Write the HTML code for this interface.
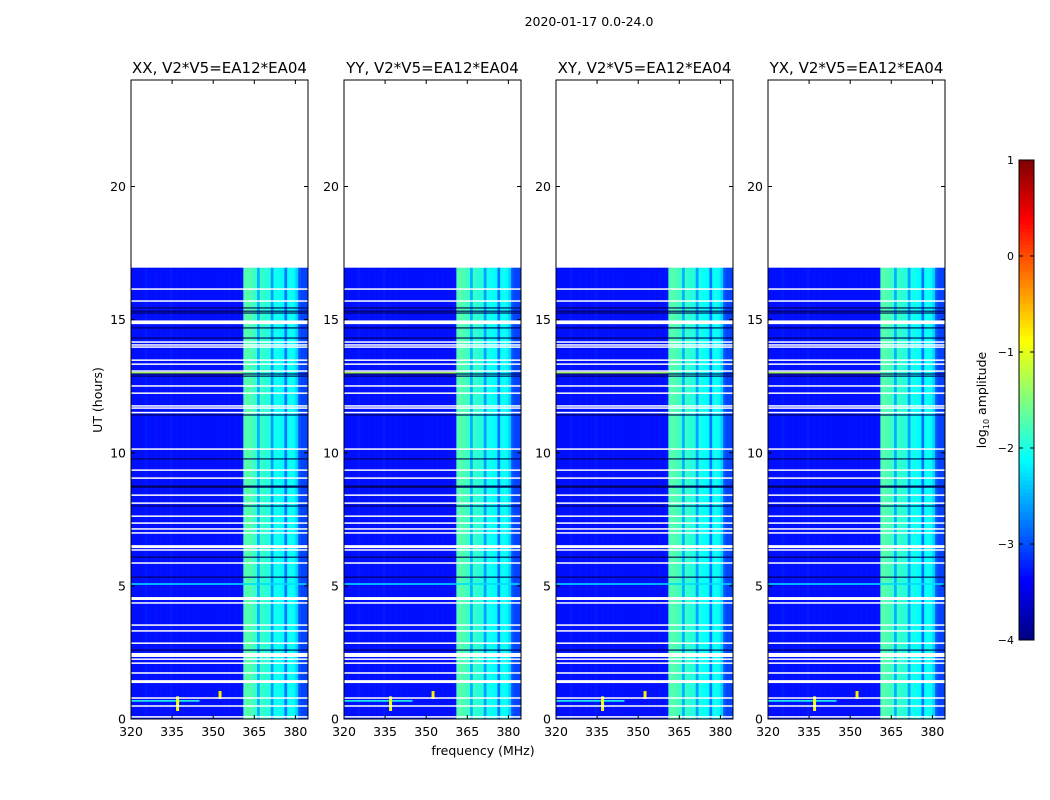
<!DOCTYPE html>
<html><head><meta charset="utf-8">
<style>
body{margin:0;background:#fff;}
svg{display:block;font-family:"DejaVu Sans","Liberation Sans",sans-serif;}
</style></head>
<body>
<svg id="chart" width="1050" height="800" viewBox="0 0 1050 800">
<text x="589" y="26" font-size="12.5" text-anchor="middle">2020-01-17 0.0-24.0</text>
<text x="483" y="755" font-size="12.5" text-anchor="middle">frequency (MHz)</text>
<text transform="translate(102,400) rotate(-90)" font-size="12.5" text-anchor="middle">UT (hours)</text>
<g id="panels"></g>
<g id="cbar"></g>
</svg>
<script>
const panelTitles=["XX, V2*V5=EA12*EA04","YY, V2*V5=EA12*EA04","XY, V2*V5=EA12*EA04","YX, V2*V5=EA12*EA04"];
const xTicks=[320,335,350,365,380];
const yTicks=[0,5,10,15,20];
const cbTicks=[-4,-3,-2,-1,0,1];
// log10 amplitude profile per 1 MHz channel, starting 320 MHz
const freqStart=320;
const freqProfile=[-3.3,-3.3,-3.3,-3.3,-3.3,-3.25,-3.3,-3.3,-3.3,-3.3,-3.3,-3.3,-3.3,-3.3,-3.25,-3.3,-3.3,-3.3,-3.3,-3.3,
-3.3,-3.3,-3.3,-3.3,-3.3,-3.3,-3.3,-3.3,-3.3,-3.3,-3.3,-3.3,-3.3,-3.3,-3.3,-3.3,-3.3,-3.3,-3.3,-3.3,
-3.3,-1.75,-1.7,-1.75,-1.8,-1.85,-2.5,-1.85,-1.9,-1.95,-1.95,-2.6,-2.05,-2.05,-2.1,-2.15,-2.8,-2.1,-2.05,-2.15,-2.35,-2.95,-3.05,-3.05,-3.05];
const dataEnd=16.95;
const whiteLines=[16.15,15.70,14.16,14.05,13.97,13.48,13.33,13.07,12.51,12.24,11.76,11.68,11.51,10.14,9.35,9.05,8.41,8.11,7.62,7.36,7.14,6.99,6.35,5.86,4.36,3.53,3.31,2.85,2.25,2.10,1.73,0.79,0.49,0.08];
const whiteBands=[[14.83,14.97],[6.42,6.53],[4.47,4.58],[2.33,2.48],[1.35,1.46]];
const darkLines=[15.44,15.32,15.25,14.69,14.31,12.96,12.88,11.42,9.77,8.75,8.71,8.0,6.08,5.33,2.59];
const rfiLines=[[13.0,320,361,-1.3],[0.68,320,345,-2.0],[5.07,320,384,-2.3]];
const rfiSpots=[[337,0.3,0.85,-0.9],[352.5,0.75,1.05,-0.8]];

const NS="http://www.w3.org/2000/svg";
const svg=document.getElementById('chart');
const panelsG=document.getElementById('panels');
const panelX=[131,344,556,768], PW=177, PT=80, PB=719;
const fMin=320, fMax=384.6;
function jet(v){let t=(v+4)/5;t=Math.max(0,Math.min(1,t));
 const r=Math.max(0,Math.min(1,Math.min(4*t-1.5,-4*t+4.5)));
 const g=Math.max(0,Math.min(1,Math.min(4*t-0.5,-4*t+3.5)));
 const b=Math.max(0,Math.min(1,Math.min(4*t+0.5,-4*t+2.5)));
 return `rgb(${Math.round(r*255)},${Math.round(g*255)},${Math.round(b*255)})`;}
function mk(tag,attrs,parent){const e=document.createElementNS(NS,tag);for(const k in attrs)e.setAttribute(k,attrs[k]);parent.appendChild(e);return e;}
function yScale(h){return PB-(h/24)*(PB-PT);}
panelX.forEach((x0,pi)=>{
 const xs=f=>x0+(f-fMin)/(fMax-fMin)*PW;
 const g=mk('g',{},panelsG);
 
 
 const hm=mk('g',{},g);
 
 
 freqProfile.forEach((v,i)=>{
  const f0=freqStart+i,f1=Math.min(f0+1,fMax);
  if(f0>=fMax)return;
  const r=mk('rect',{x:xs(f0),y:yScale(dataEnd),width:xs(f1)-xs(f0)+0.3,height:yScale(0)-yScale(dataEnd),fill:jet(v)},hm);
  
  
 });
 rfiLines.forEach(l=>{
  const r=mk('rect',{x:xs(l[1]),y:yScale(l[0])-0.8,width:xs(l[2])-xs(l[1]),height:1.6,fill:jet(l[3])},hm);
  
  
 });
 rfiSpots.forEach(s=>{
  const r=mk('rect',{x:xs(s[0])-1.5,y:yScale(s[2]),width:3,height:yScale(s[1])-yScale(s[2]),fill:jet(s[3])},hm);
  
  
 });
 darkLines.forEach(h=>{
  const r=mk('rect',{x:x0,y:yScale(h)-0.5,width:PW,height:1.1,fill:'#000050'},hm);
  
  
 });
 whiteLines.forEach(h=>{
  const r=mk('rect',{x:x0,y:yScale(h)-0.7,width:PW,height:1.5,fill:'#fff'},hm);
  
  
 });
 whiteBands.forEach(b=>{
  const r=mk('rect',{x:x0,y:yScale(b[1]),width:PW,height:yScale(b[0])-yScale(b[1]),fill:'#fff'},hm);
  
  
 });
 const fr=mk('rect',{x:x0,y:PT,width:PW,height:PB-PT,fill:'none',stroke:'#000','stroke-width':1},g);
 
 
 const t=mk('text',{x:x0+PW/2,y:73,'font-size':15,'text-anchor':'middle'},g);
 t.textContent=panelTitles[pi];
 
 
 xTicks.forEach(v=>{
  const x=xs(v);
  mk('line',{x1:x,x2:x,y1:PB,y2:PB-4,stroke:'#000'},g);
  mk('line',{x1:x,x2:x,y1:PT,y2:PT+4,stroke:'#000'},g);
  const l=mk('text',{x:x,y:736,'font-size':12.5,'text-anchor':'middle'},g);
  l.textContent=v;
  
  
 });
 yTicks.forEach(v=>{
  const y=yScale(v);
  mk('line',{x1:x0,x2:x0+4,y1:y,y2:y,stroke:'#000'},g);
  mk('line',{x1:x0+PW,x2:x0+PW-4,y1:y,y2:y,stroke:'#000'},g);
  const l=mk('text',{x:x0-5,y:y+4.5,'font-size':12.5,'text-anchor':'end'},g);
  l.textContent=v;
  
  
 });
});
// colorbar
const cb=document.getElementById('cbar');
const CX=1019,CW=15,CT=160,CB=640;
const cbS=v=>CB-(v+4)/5*(CB-CT);
for(let i=0;i<120;i++){
 const v0=-4+i*5/120;
 mk('rect',{x:CX,y:cbS(v0+5/120),width:CW,height:(CB-CT)/120+0.5,fill:jet(v0+2.5/120)},cb);
}
mk('rect',{x:CX,y:CT,width:CW,height:CB-CT,fill:'none',stroke:'#000'},cb);
cbTicks.forEach(v=>{
 const y=cbS(v);
 mk('line',{x1:CX,x2:CX+4,y1:y,y2:y,stroke:'#000'},cb);
 mk('line',{x1:CX+CW,x2:CX+CW-4,y1:y,y2:y,stroke:'#000'},cb);
 const l=mk('text',{x:CX-5,y:y+4,'font-size':11,'text-anchor':'end'},cb);
 l.textContent=(v<0?'\u2212':'')+Math.abs(v);
 
 
});
const cl=mk('text',{transform:'translate(986,400) rotate(-90)','font-size':12.5,'text-anchor':'middle'},cb);
cl.innerHTML='log<tspan font-size="8" dy="3">10</tspan><tspan dy="-3"> amplitude</tspan>';


</script>
</body></html>
